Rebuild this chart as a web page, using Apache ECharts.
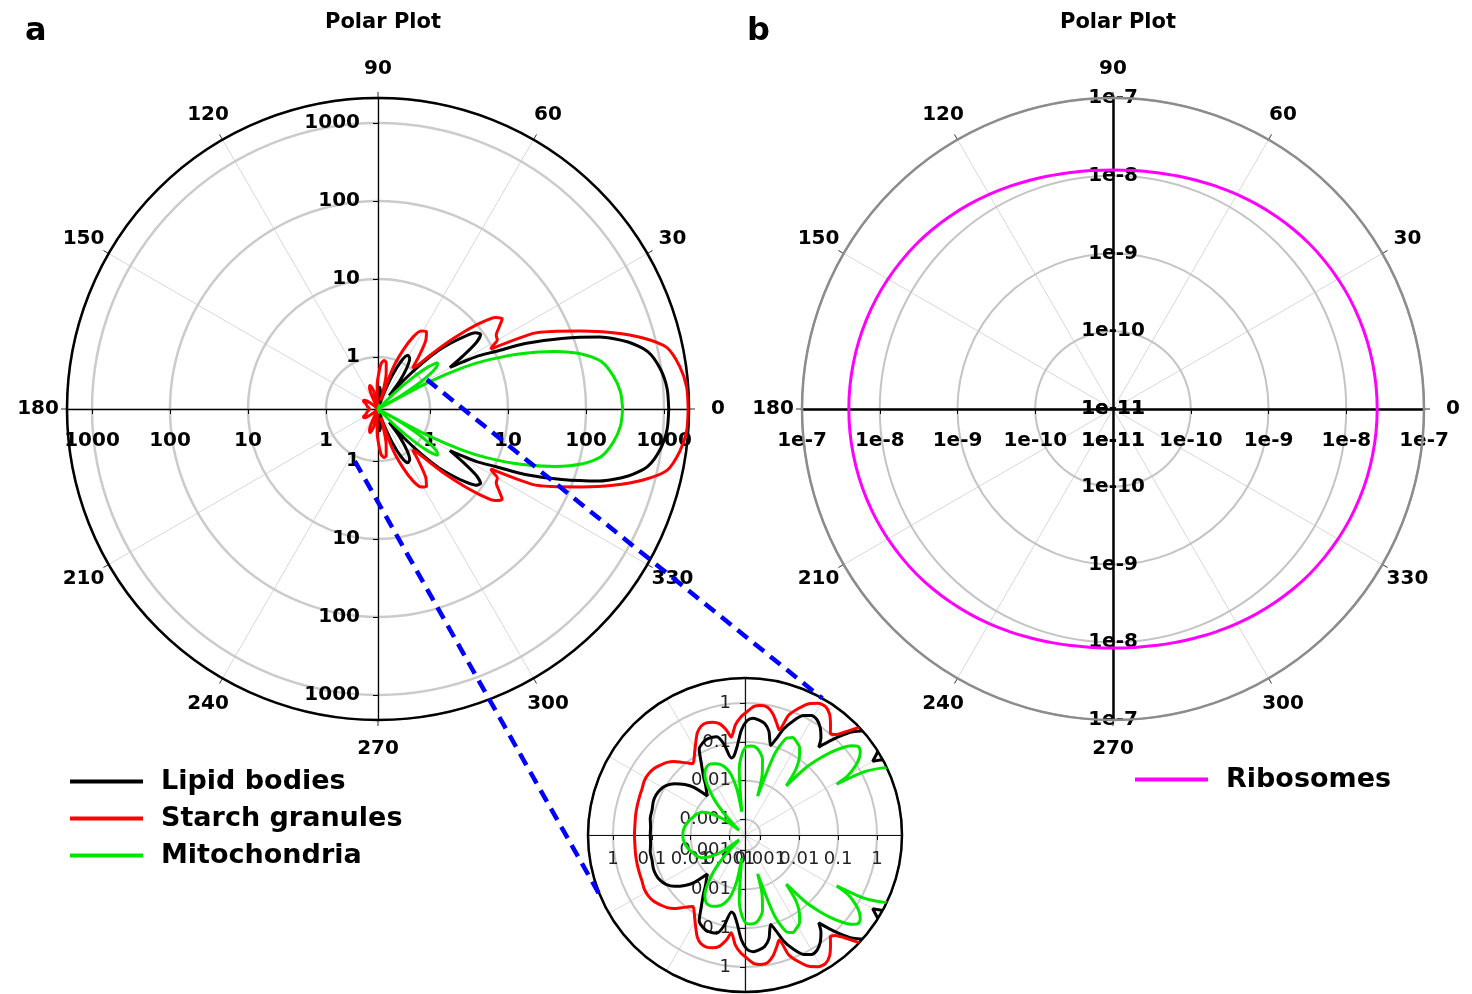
<!DOCTYPE html>
<html><head><meta charset="utf-8">
<script src="https://cdn.jsdelivr.net/npm/echarts@6/dist/echarts.min.js"></script>
<style>html,body{margin:0;padding:0;background:#fff}#c{width:1472px;height:994px}</style>
</head><body><div id="c"></div>
<script>
// ---------- data ----------
const ANGLES = [0,4,8,12,15,18,21,24,26,28,29,30,32,34,36,38,40,42,44,46,48,50,52,55,58,61,64,67,70,72,74,77,80,83,86,89,92,95,98,100,103,106,109,112,115,118,121,124,126,128,131,134,137,140,144,148,152,156,160,165,170,175,180,
185,190,195,200,204,208,212,216,220,223,226,229,232,234,236,239,242,245,248,251,254,257,260,262,265,268,271,274,277,280,283,286,288,290,293,296,299,302,305,308,310,312,314,316,318,320,322,324,326,328,330,331,332,334,336,339,342,345,348,352,356,360];

const LIPID = [1150,1120,980,740,450,210,72,25,10.5,6.0,3.8,2.5,4.2,7.1,9.1,8.3,6.0,4.0,2.6,1.4,0.71,0.36,0.60,0.95,1.26,1.32,1.05,0.63,0.32,0.16,0.10,0.22,0.33,0.38,0.41,0.35,0.20,0.079,0.045,0.041,0.10,0.17,0.18,0.18,0.16,0.13,0.063,0.035,0.025,0.018,0.013,0.010,0.025,0.042,0.071,0.10,0.12,0.13,0.13,0.12,0.12,0.11,0.11,
0.11,0.12,0.12,0.13,0.13,0.12,0.10,0.071,0.042,0.025,0.010,0.013,0.018,0.025,0.035,0.063,0.13,0.16,0.18,0.18,0.17,0.10,0.041,0.045,0.079,0.20,0.35,0.41,0.38,0.33,0.22,0.10,0.16,0.32,0.63,1.05,1.32,1.26,0.95,0.60,0.36,0.71,1.4,2.6,4.0,6.0,8.3,9.1,7.1,4.2,2.5,3.8,6.0,10.5,25,72,210,450,740,980,1120,1150];

const STARCH = [2040,2000,1740,1320,710,316,132,60,35,9.3,10.7,12.6,13.2,16,20,17.4,11.2,6.3,3.5,1.9,1.2,1.05,1.5,2.5,3.2,3.0,2.3,1.4,0.76,0.28,0.38,0.63,0.87,0.91,0.83,0.60,0.44,0.28,0.14,0.22,0.35,0.42,0.45,0.42,0.32,0.20,0.13,0.089,0.076,0.089,0.12,0.17,0.22,0.26,0.32,0.35,0.35,0.32,0.31,0.30,0.29,0.28,0.28,
0.28,0.29,0.30,0.31,0.32,0.35,0.35,0.32,0.26,0.22,0.17,0.12,0.089,0.076,0.089,0.13,0.20,0.32,0.42,0.45,0.42,0.35,0.22,0.14,0.28,0.44,0.60,0.83,0.91,0.87,0.63,0.38,0.28,0.76,1.4,2.3,3.0,3.2,2.5,1.5,1.05,1.2,1.9,3.5,6.3,11.2,17.4,20,16,13.2,12.6,10.7,9.3,35,60,132,316,710,1320,1740,2000,2040];

const MITO = [295,282,240,182,112,52,21,7.6,3.5,1.12,0.20,0.45,0.89,1.41,1.86,2.0,1.51,0.89,0.45,0.20,0.079,0.018,0.050,0.11,0.18,0.22,0.25,0.20,0.063,0.0045,0.016,0.040,0.060,0.076,0.079,0.076,0.050,0.020,0.0016,0.0063,0.016,0.025,0.033,0.038,0.042,0.043,0.038,0.028,0.020,0.013,0.0063,0.0025,0.0010,0.00063,0.0020,0.0045,0.0071,0.0089,0.010,0.012,0.014,0.0155,0.016,
0.0155,0.014,0.012,0.010,0.0089,0.0071,0.0045,0.0020,0.00063,0.0010,0.0025,0.0063,0.013,0.020,0.028,0.038,0.043,0.042,0.038,0.033,0.025,0.016,0.0063,0.0016,0.020,0.050,0.076,0.079,0.076,0.060,0.040,0.016,0.0045,0.063,0.20,0.25,0.22,0.18,0.11,0.050,0.018,0.079,0.20,0.45,0.89,1.51,2.0,1.86,1.41,0.89,0.45,0.20,1.12,3.5,7.6,21,52,112,182,240,282,295];

const RIBO_ANGLES = [0,5,10,15,20,25,30,35,40,45,50,55,60,65,70,75,80,85,90,95,100,105,110,115,120,125,130,135,140,145,150,155,160,165,170,175,180,
185,190,195,200,205,210,215,220,225,230,235,240,245,250,255,260,265,270,275,280,285,290,295,300,305,310,315,320,325,330,335,340,345,350,355,360];
const RIBOSOMES = [2.50e-8,2.49e-8,2.46e-8,2.42e-8,2.36e-8,2.29e-8,2.20e-8,2.10e-8,2.00e-8,1.88e-8,1.76e-8,1.65e-8,1.54e-8,1.44e-8,1.35e-8,1.28e-8,1.23e-8,1.20e-8,1.19e-8,
1.20e-8,1.23e-8,1.28e-8,1.35e-8,1.44e-8,1.54e-8,1.65e-8,1.76e-8,1.88e-8,2.00e-8,2.10e-8,2.20e-8,2.29e-8,2.36e-8,2.42e-8,2.46e-8,2.49e-8,2.50e-8,
2.49e-8,2.46e-8,2.42e-8,2.36e-8,2.29e-8,2.20e-8,2.10e-8,2.00e-8,1.88e-8,1.76e-8,1.65e-8,1.54e-8,1.44e-8,1.35e-8,1.28e-8,1.23e-8,1.20e-8,1.19e-8,
1.20e-8,1.23e-8,1.28e-8,1.35e-8,1.44e-8,1.54e-8,1.65e-8,1.76e-8,1.88e-8,2.00e-8,2.10e-8,2.20e-8,2.29e-8,2.36e-8,2.42e-8,2.46e-8,2.49e-8,2.50e-8];

const SERIES_NAMES = ['Lipid bodies','Starch granules','Mitochondria'];
const RIBO_NAME = 'Ribosomes';
const ANGLE_LABELS = [0,30,60,90,120,150,180,210,240,270,300,330];
const MAIN_RANGE = [0.2154, 2092];      // radial extent of panel a
const RIBO_RANGE = [1e-11, 1e-7];       // radial extent of panel b
const INSET_RANGE = [4e-4, 4.4];        // radial extent of the zoom inset
const ANGLE_MAX = 360, ANGLE_STEP = 30;
// zoom connectors: [main-plot point [r, angle], inset point [r, angle]]
const CONNECTORS = [[[1.16, 31], [4.4, 60.5]], [[1.16, 246], [4.4, 203]]];

// ---------- styling ----------
const FONT = 'DejaVu Sans';
const COLORS = ['#000000', '#ff0000', '#00e600'];
const RIBO_COLOR = '#ff00ff';

function decade(v){ const l = Math.log10(v); const n = Math.round(l); return Math.abs(l - n) < 0.02 ? n : null; }
const fmtPlain = v => { const n = decade(v); return n === null ? '' : String(Math.round(Math.pow(10, n))); };
const fmtSci = v => { const n = decade(v); return n === null ? '' : '1e' + n; };
const fmtDec = v => { const n = decade(v); return n === null ? '' : (n >= 0 ? String(Math.pow(10, n)) : Math.pow(10, n).toFixed(-n)); };

const polar = [], angleAxis = [], radiusAxis = [];
function hiddenAngle(idx, dir) {
  return { polarIndex: idx, type: 'value', min: 0, max: ANGLE_MAX, interval: ANGLE_STEP, startAngle: dir, clockwise: false,
    axisLine: { show: false }, axisTick: { show: false }, axisLabel: { show: false }, splitLine: { show: false }, splitArea: { show: false } };
}
function addPanel(cfg) {
  const base = polar.length;
  [0, 90, 180, 270].forEach((dir, k) => {
    const idx = base + k;
    polar.push({ center: cfg.center, radius: cfg.radius });
    const main = k === 0;
    const ax = hiddenAngle(idx, dir);
    ax.z = main ? 3 : 0;
    ax.axisLine = { show: main, lineStyle: { color: cfg.rim, width: cfg.rimWidth } };
    ax.axisTick = { show: main && cfg.angleTicks, length: 6, lineStyle: { color: '#333', width: 1 } };
    ax.splitLine = { show: k === 1, lineStyle: { color: cfg.spoke, width: 1 } };
    angleAxis.push(ax);
    let label, tick;
    if (dir === 0) {            // flip to below the axis
      label = { margin: -cfg.hMargin, align: 'center', verticalAlign: 'top' };
      tick = { length: -5, show: true };
    } else if (dir === 180) {   // default side is below
      label = { margin: cfg.hMargin };
      tick = { length: 5, show: true };
    } else if (cfg.vMode === 'center') {
      label = { margin: 0, align: 'center', verticalAlign: 'middle' };
      tick = { show: false };
    } else if (dir === 90) {    // default side is left
      label = { margin: cfg.vMargin };
      tick = { length: 5, show: true };
    } else {                    // 270: flip to the left
      label = { margin: -cfg.vMargin, align: 'right', verticalAlign: 'middle' };
      tick = { length: -5, show: true };
    }
    radiusAxis.push({
      polarIndex: idx, type: 'log', logBase: 10, min: cfg.range[0], max: cfg.range[1], z: 2,
      axisLine: { show: true, lineStyle: { color: cfg.axisColor, width: cfg.axisWidth } },
      axisTick: Object.assign({ lineStyle: { color: cfg.axisColor, width: 1 } }, tick),
      axisLabel: Object.assign({ show: true, formatter: cfg.fmt, showMinLabel: cfg.showMin, showMaxLabel: cfg.showMax,
                                 fontFamily: FONT, hideOverlap: false }, cfg.labelFont, label),
      splitLine: { show: k === 1, lineStyle: { color: cfg.ring, width: cfg.ringWidth } },
      minorTick: { show: false }, minorSplitLine: { show: false }
    });
  });
  return base;
}
// a ring just outside the rim that carries the angle labels (centred on each direction)
function addLabelRing(center, radius) {
  const idx = polar.length;
  polar.push({ center, radius });
  angleAxis.push(hiddenAngle(idx, 0));
  radiusAxis.push({ polarIndex: idx, type: 'value', min: 0, max: 1, axisLine: { show: false }, axisTick: { show: false },
    axisLabel: { show: false }, splitLine: { show: false } });
  return idx;
}

const PA = addPanel({ center: [378, 409], radius: 311, range: MAIN_RANGE, rim: '#000', rimWidth: 2.5,
  axisColor: '#000', axisWidth: 1.3, ring: '#cbcbcb', ringWidth: 2.5, spoke: '#d8d8d8', angleTicks: true,
  labelFont: { fontSize: 20, fontWeight: 'bold', color: '#000' }, hMargin: 22, vMode: 'side', vMargin: 18,
  fmt: fmtPlain, showMin: false, showMax: false });
const PB = addPanel({ center: [1113, 409], radius: 311, range: RIBO_RANGE, rim: '#8c8c8c', rimWidth: 2.5,
  axisColor: '#000', axisWidth: 2.5, ring: '#c4c4c4', ringWidth: 2, spoke: '#d8d8d8', angleTicks: true,
  labelFont: { fontSize: 20, fontWeight: 'bold', color: '#000' }, hMargin: 22, vMode: 'center', vMargin: 0,
  fmt: fmtSci, showMin: true, showMax: true });
const PI = addPanel({ center: [745, 835], radius: 157, range: INSET_RANGE, rim: '#000', rimWidth: 2.5,
  axisColor: '#111', axisWidth: 1.2, ring: '#c8c8c8', ringWidth: 2, spoke: '#dadada', angleTicks: false,
  labelFont: { fontSize: 18, fontWeight: 'normal', color: '#222' }, hMargin: 15, vMode: 'side', vMargin: 14,
  fmt: fmtDec, showMin: false, showMax: false });
const LA = addLabelRing([378, 409], 340);
const LB = addLabelRing([1113, 409], 340);

const VALUES = [LIPID, STARCH, MITO];
const series = [];
SERIES_NAMES.forEach((name, i) => {
  series.push({ name, type: 'line', coordinateSystem: 'polar', polarIndex: PA, z: 4, clip: true,
    data: ANGLES.map((a, j) => [Math.max(VALUES[i][j], MAIN_RANGE[0]), a]),
    symbol: 'none', smooth: 0.25, color: COLORS[i], lineStyle: { width: 3, color: COLORS[i] } });
});
SERIES_NAMES.forEach((name, i) => {
  series.push({ name, type: 'line', coordinateSystem: 'polar', polarIndex: PI, z: 4, clip: true,
    data: ANGLES.map((a, j) => [VALUES[i][j], a]),
    symbol: 'none', smooth: 0.25, color: COLORS[i], lineStyle: { width: 3, color: COLORS[i] } });
});
series.push({ name: RIBO_NAME, type: 'line', coordinateSystem: 'polar', polarIndex: PB, z: 4, clip: true,
  data: RIBO_ANGLES.map((a, j) => [RIBOSOMES[j], a]),
  symbol: 'none', smooth: 0.5, color: RIBO_COLOR, lineStyle: { width: 3, color: RIBO_COLOR } });
[LA, LB].forEach(pi => {
  series.push({ type: 'scatter', coordinateSystem: 'polar', polarIndex: pi, silent: true, z: 5,
    data: ANGLE_LABELS.map(a => [1, a]), symbol: 'circle', symbolSize: 0.1,
    itemStyle: { color: 'rgba(0,0,0,0)', opacity: 1 },
    emphasis: { disabled: true },
    label: { show: true, position: 'inside', formatter: p => String(p.value[1]), opacity: 1,
      fontFamily: FONT, fontWeight: 'bold', fontSize: 20, color: '#000000', textBorderWidth: 0 } });
});

const LEG_ICON = 'path://M0,0L73,0L73,4L0,4Z M86,0L86,4';
const legendText = { fontFamily: FONT, fontWeight: 'bold', fontSize: 27, color: '#000' };

const chart = echarts.init(document.getElementById('c'), null, { renderer: 'canvas', width: 1472, height: 994 });
chart.setOption({
  animation: false,
  backgroundColor: '#ffffff',
  textStyle: { fontFamily: FONT },
  title: [
    { text: 'a', left: 20, top: 11, textStyle: { fontFamily: FONT, fontWeight: 'bold', fontSize: 32, color: '#000' } },
    { text: 'b', left: 742, top: 11, textStyle: { fontFamily: FONT, fontWeight: 'bold', fontSize: 32, color: '#000' } },
    { text: 'Polar Plot', left: 378, textAlign: 'center', top: 7, textStyle: { fontFamily: FONT, fontWeight: 'bold', fontSize: 21, color: '#000' } },
    { text: 'Polar Plot', left: 1113, textAlign: 'center', top: 7, textStyle: { fontFamily: FONT, fontWeight: 'bold', fontSize: 21, color: '#000' } }
  ],
  legend: [
    { data: SERIES_NAMES, orient: 'vertical', left: 65, top: 763, itemWidth: 86, itemHeight: 4, itemGap: 10,
      icon: LEG_ICON, itemStyle: { borderWidth: 0 }, selectedMode: false, textStyle: legendText },
    { data: [RIBO_NAME], orient: 'vertical', left: 1130, top: 761, itemWidth: 86, itemHeight: 4,
      icon: LEG_ICON, itemStyle: { borderWidth: 0 }, selectedMode: false, textStyle: legendText }
  ],
  polar, angleAxis, radiusAxis, series
});

// dashed zoom connectors, positioned through the polar coordinate systems
const gfx = CONNECTORS.map(([from, to]) => {
  const p1 = chart.convertToPixel({ seriesIndex: 0 }, from);
  const p2 = chart.convertToPixel({ seriesIndex: 3 }, to);
  return { type: 'line', z: 100, silent: true,
    shape: { x1: p1[0], y1: p1[1], x2: p2[0], y2: p2[1] },
    style: { stroke: '#0000ff', lineWidth: 4.5, lineDash: [13, 8] } };
});
chart.setOption({ graphic: gfx });
</script>
</body></html>
